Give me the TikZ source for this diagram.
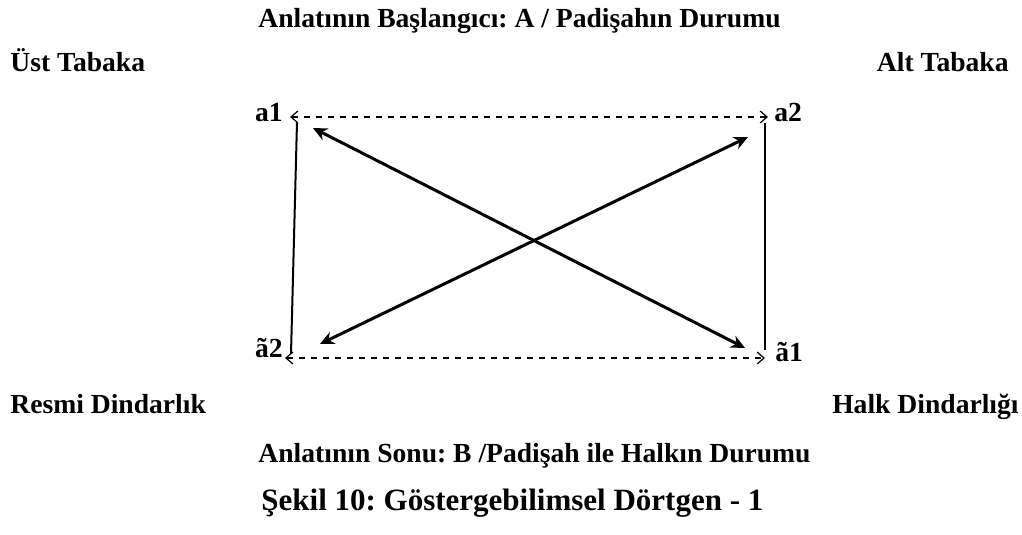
\documentclass[tikz,border=0pt]{standalone}
\usepackage{fontspec}
\setmainfont{Liberation Serif}
\usepackage{tikz}
\usetikzlibrary{positioning, arrows.meta, calc}
\frenchspacing

\begin{document}
\begin{tikzpicture}[x=0.5pt, y=-0.5pt,
    lbl/.style={font=\bfseries\fontsize{13.8}{16}\selectfont, inner sep=0pt},
    dline/.style={line width=1.2pt, dash pattern=on 3pt off 3pt, {Straight Barb[length=3.5pt, width=6pt, line width=0.6pt]}-{Straight Barb[length=3.5pt, width=6pt, line width=0.6pt]}},
    xarrow/.style={line width=1.5pt, {Stealth[length=7pt, width=6.5pt]}-{Stealth[length=7pt, width=6.5pt]}}]
\useasboundingbox (0,0) rectangle (1022,535);
% headings and side labels
\node[lbl, anchor=base west] (title) at (258,28) {Anlatının Başlangıcı: A / Padişahın Durumu};
\node[lbl, anchor=base west] (ust) at (10,72) {Üst Tabaka};
\node[lbl, anchor=base east] (alt) at (1009,72) {Alt Tabaka};
\node[lbl, anchor=base west] (resmi) at (10,413) {Resmi Dindarlık};
\node[lbl, anchor=base east] (halk) at (1019,413) {Halk Dindarlığı};
\node[lbl, anchor=base west] (sonu) at (258,462) {Anlatının Sonu: B /Padişah ile Halkın Durumu};
\node[font=\bfseries\fontsize{15.5}{18}\selectfont, inner sep=0pt, anchor=base west] (caption) at (261,510) {Şekil 10: Göstergebilimsel Dörtgen - 1};
% corners of the square
\node[lbl, anchor=base east] (a1) at (283,121) {a1};
\node[lbl, anchor=base west] (a2) at (774,121) {a2};
\node[lbl, anchor=base east] (at2) at (283,357) {ã2};
\node[lbl, anchor=base west] (at1) at (775,361) {ã1};
% contraries
\draw[dline] ($(a1.base east)+(7,-4)$) -- ($(a2.base west)+(-6,-4)$);
\draw[dline] ($(at2.base east)+(2,1)$) -- ($(at1.base west)+(-10,-3)$);
% implications
\draw[line width=1pt] ($(a1.base east)+(14,1)$) -- ($(at2.base east)+(8,-3)$);
\draw[line width=1pt] ($(a2.base west)+(-9,2)$) -- ($(at1.base west)+(-10,-11)$);
% contradictions
\draw[xarrow] ($(a1.base east)+(30,7)$) -- ($(at1.base west)+(-30,-13)$);
\draw[xarrow] ($(a2.base west)+(-26,16)$) -- ($(at2.base east)+(37,-13)$);
\end{tikzpicture}
\end{document}
